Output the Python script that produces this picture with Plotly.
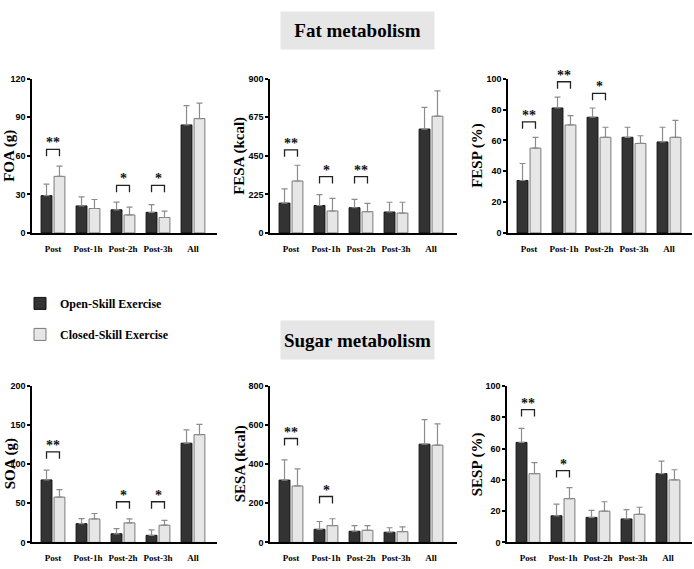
import plotly.graph_objects as go

W, H = 694, 569

categories = ["Post", "Post-1h", "Post-2h", "Post-3h", "All"]

foa_open = [29, 21, 18, 16, 84]
foa_open_err = [9, 7, 6, 6, 15]
foa_closed = [44, 19, 14, 12, 89]
foa_closed_err = [8, 7, 6, 5, 12]

fesa_open = [174, 160, 147, 122, 606]
fesa_open_err = [83, 63, 49, 57, 126]
fesa_closed = [303, 128, 124, 116, 681]
fesa_closed_err = [92, 74, 48, 63, 148]

fesp_open = [34, 81, 75, 62, 59]
fesp_open_err = [11, 7, 6, 6.5, 9.5]
fesp_closed = [55, 70, 62, 58, 62]
fesp_closed_err = [7, 6, 6.5, 5, 11]

soa_open = [80, 24, 11, 9, 127]
soa_open_err = [12.5, 6.5, 6.5, 7, 17]
soa_closed = [58, 30, 25, 22, 138]
soa_closed_err = [9.5, 7, 5, 6.3, 13]

sesa_open = [319, 67, 57, 52, 503]
sesa_open_err = [104, 40, 29, 23, 126]
sesa_closed = [289, 86, 62, 55, 498]
sesa_closed_err = [87, 35, 24, 24, 109]

sesp_open = [64, 17, 16, 15, 44]
sesp_open_err = [9, 7.5, 4.5, 6, 8]
sesp_closed = [44, 28, 20, 18, 40]
sesp_closed_err = [7, 7, 6, 4.5, 6.5]

# significance: (category index, bracket height, label)
foa_sig = [(0, 65, "**"), (2, 37, "*"), (3, 37, "*")]
fesa_sig = [(0, 484, "**"), (1, 328, "*"), (2, 328, "**")]
fesp_sig = [(0, 72, "**"), (1, 98, "**"), (2, 90.5, "*")]
soa_sig = [(0, 116, "**"), (2, 52, "*"), (3, 52, "*")]
sesa_sig = [(0, 532, "**"), (1, 235, "*")]
sesp_sig = [(0, 85, "**"), (1, 46, "*")]

series_names = ["Open-Skill Exercise", "Closed-Skill Exercise"]

SERIF = "Liberation Serif, Times New Roman, serif"
SANS = "Liberation Sans, Arial, sans-serif"

panels = [
    # label, open, open_err, closed, closed_err, ymax, dtick, sig, px box (x0,x1,ytop,ybot), title x center
    ("FOA (g)", foa_open, foa_open_err, foa_closed, foa_closed_err, 120, 30, foa_sig, (32, 217, 75, 232), 10),
    ("FESA (kcal)", fesa_open, fesa_open_err, fesa_closed, fesa_closed_err, 900, 225, fesa_sig, (270, 457, 75, 232), 240),
    ("FESP (%)", fesp_open, fesp_open_err, fesp_closed, fesp_closed_err, 100, 20, fesp_sig, (508, 692, 75, 232), 478),
    ("SOA (g)", soa_open, soa_open_err, soa_closed, soa_closed_err, 200, 50, soa_sig, (32, 217, 388, 547), 10),
    ("SESA (kcal)", sesa_open, sesa_open_err, sesa_closed, sesa_closed_err, 800, 200, sesa_sig, (270, 457, 388, 547), 240),
    ("SESP (%)", sesp_open, sesp_open_err, sesp_closed, sesp_closed_err, 100, 20, sesp_sig, (507, 692, 388, 547), 477),
]

fig = go.Figure()
annotations = []
xpos = list(range(len(categories)))
BW = 0.31
DARK_OFF, LIGHT_OFF = -0.34, 0.03

for k, (label, o, oe, c, ce, ymax, dtick, sig, box, tx) in enumerate(panels):
    n = "" if k == 0 else str(k + 1)
    xa, ya = "x" + n, "y" + n
    fig.add_trace(go.Bar(
        x=xpos, y=o, xaxis=xa, yaxis=ya, width=BW, offset=DARK_OFF,
        name=series_names[0], showlegend=(k == 0), legendgroup="open",
        marker=dict(color="#333333", line=dict(color="#111111", width=1)),
        error_y=dict(type="data", symmetric=False, array=oe, arrayminus=[0] * len(oe),
                     color="#8c8c8c", thickness=1.2, width=3),
    ))
    fig.add_trace(go.Bar(
        x=xpos, y=c, xaxis=xa, yaxis=ya, width=BW, offset=LIGHT_OFF,
        name=series_names[1], showlegend=(k == 0), legendgroup="closed",
        marker=dict(color="#e6e6e6", line=dict(color="#7a7a7a", width=1)),
        error_y=dict(type="data", symmetric=False, array=ce, arrayminus=[0] * len(ce),
                     color="#8c8c8c", thickness=1.2, width=3),
    ))
    x0, x1, yt, yb = box
    leg = 7.0 / (yb - yt) * ymax
    for (ci, by, txt) in sig:
        xl = ci + DARK_OFF + BW / 2
        xr = ci + LIGHT_OFF + BW / 2
        fig.add_trace(go.Scatter(
            x=[xl, xl, xr, xr], y=[by - leg, by, by, by - leg], xaxis=xa, yaxis=ya,
            mode="lines", line=dict(color="#222222", width=1.3), showlegend=False, hoverinfo="skip",
        ))
        annotations.append(dict(
            x=ci, y=by, xref=xa, yref=ya, text=txt, showarrow=False,
            yanchor="bottom", yshift=-3, font=dict(family=SERIF, size=14, color="#111111", weight="bold"),
        ))
    # axis layout
    xd = [x0 / W, x1 / W]
    yd = [1 - yb / H, 1 - yt / H]
    lo = -0.6
    hi = lo + (x1 - x0) / 35.0
    fig.update_layout(**{
        "xaxis" + n: dict(domain=xd, anchor=ya, range=[lo, hi], tickvals=xpos, ticktext=categories,
                          showline=True, linecolor="black", linewidth=2, showgrid=False, zeroline=False,
                          ticks="outside", ticklen=6, tickcolor="rgba(0,0,0,0)",
                          tickfont=dict(family=SERIF, size=9, color="black", weight="bold")),
        "yaxis" + n: dict(domain=yd, anchor=xa, range=[0, ymax], dtick=dtick, tick0=0,
                          showline=True, linecolor="black", linewidth=1.5, showgrid=False, zeroline=False,
                          ticks="outside", ticklen=3, tickwidth=1.5, tickcolor="black",
                          tickfont=dict(family=SANS, size=9, color="black", weight="bold")),
    })
    annotations.append(dict(
        x=tx / W, y=1 - (yt + yb) / 2 / H, xref="paper", yref="paper", text=label, textangle=-90,
        showarrow=False, xanchor="center", yanchor="middle",
        font=dict(family=SERIF, size=15, color="black", weight="bold"),
    ))

# section headers
for text, (bx0, bx1, by0, by1) in [("Fat metabolism", (282, 433, 8, 43)), ("Sugar metabolism", (282, 433, 323, 359))]:
    annotations.append(dict(
        x=(bx0 + bx1) / 2 / W, y=1 - (by0 + by1) / 2 / H, xref="paper", yref="paper", text=text,
        showarrow=False, xanchor="center", yanchor="middle", width=bx1 - bx0, height=by1 - by0,
        bgcolor="#e6e6e6", font=dict(family=SERIF, size=19, color="black", weight="bold"),
    ))

fig.update_layout(
    width=W, height=H, margin=dict(l=0, r=0, t=0, b=0),
    paper_bgcolor="white", plot_bgcolor="white",
    barmode="overlay", annotations=annotations,
    showlegend=True,
    legend=dict(x=20 / W, y=1 - 289 / H, xanchor="left", yanchor="top", tracegroupgap=12,
                font=dict(family=SERIF, size=12, color="black", weight="bold"),
                bgcolor="rgba(0,0,0,0)"),
)

fig.write_html("out.html")
